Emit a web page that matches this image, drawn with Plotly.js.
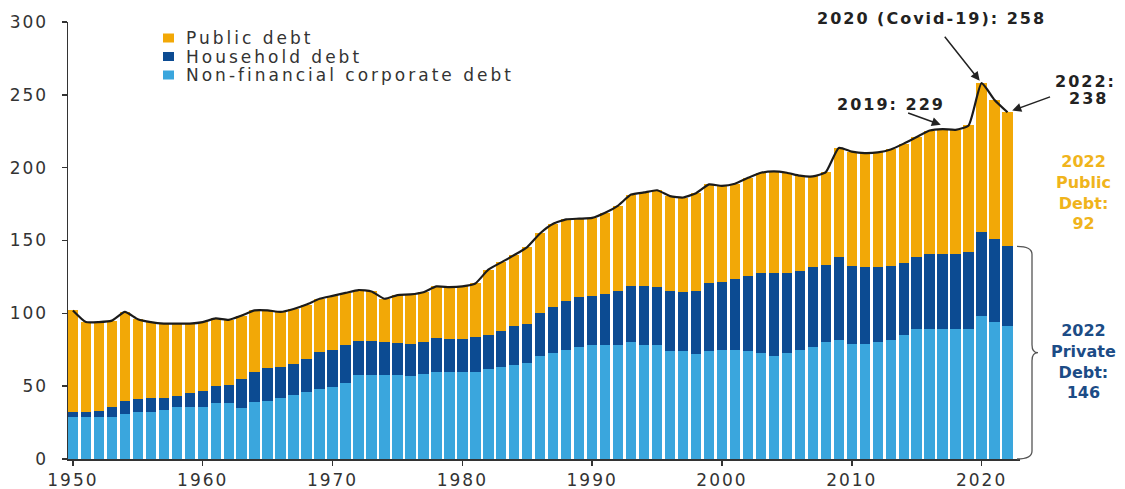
<!DOCTYPE html>
<html><head><meta charset="utf-8">
<script src="https://cdn.plot.ly/plotly-3.0.1.min.js"></script>
<style>
html,body{margin:0;padding:0;background:#fff;}
#chart{width:1125px;height:489px;}
.xtick text,.ytick text{letter-spacing:2px;}
</style></head><body><div id="chart"></div>
<script>
const years = [1950,1951,1952,1953,1954,1955,1956,1957,1958,1959,
  1960,1961,1962,1963,1964,1965,1966,1967,1968,1969,
  1970,1971,1972,1973,1974,1975,1976,1977,1978,1979,
  1980,1981,1982,1983,1984,1985,1986,1987,1988,1989,
  1990,1991,1992,1993,1994,1995,1996,1997,1998,1999,
  2000,2001,2002,2003,2004,2005,2006,2007,2008,2009,
  2010,2011,2012,2013,2014,2015,2016,2017,2018,2019,
  2020,2021,2022];
const corporate = [29,29,29,29,31,32,32,33.5,36,36,
  36,38.5,38.5,35,39,40,42,44,46,48,
  49.5,52,58,58,58,58,57,58.5,59.5,59.5,
  60,60,61.5,63,64.5,66,70.5,73,75,77,
  78,78,78,80,78.5,78.5,74,74,72,74,
  75,74.5,74,73,71,73,74.5,77,80.5,82,
  79,79,80.5,82,85,89,89,89,89,89.5,
  98,94,91];
const household = [3,3,4,7,9,9,10,8.5,7,9,
  11,11.5,12,20,21,22.5,21,21.5,22.5,25.5,
  25.5,26,23,23,22,21.5,22,21.5,23.5,23,
  22.5,23.5,23.5,25,26.5,27,30,31.5,33.5,34,
  34,35,37.5,39,40,39.5,41,40.5,43.5,47,
  46.5,49,51.5,54.5,56.5,54.5,54.5,54.5,52.5,56.5,
  53.5,52.5,51,50.5,49.5,49.5,51.5,51.5,51.5,52.5,
  58,57,55];
const publicDebt = [70,62,61,59,61,55,52,51,50,48,
  47,46.5,45,43.5,42,39.5,38,37.5,37.5,36.5,
  37,36,35,34,30,33,34,34.5,35.5,35.5,
  36,37,45,47,49,52.5,54.5,57,56,54,
  53.5,56,58.5,62.5,64.5,66.5,65.5,65,67,67.5,
  66,65.5,67.5,69,70,69,65.5,62.5,64,75,
  78.5,78.5,79,80,82,82.5,85,86,85.5,87,
  102,95.5,92];
const seriesNames = ["Non-financial corporate debt","Household debt","Public debt"];
const tickYears = [1950,1960,1970,1980,1990,2000,2010,2020];
const yTicks = [0,50,100,150,200,250,300];

const total = years.map((_, i) => corporate[i] + household[i] + publicDebt[i]);
const last = years.length - 1;
const idx2019 = years.indexOf(2019), idx2020 = years.indexOf(2020);
const private2022 = corporate[last] + household[last];
const public2022 = publicDebt[last];

const C_CORP = "#3AA6DD", C_HH = "#0C4B92", C_PUB = "#F2A807";
const FONT = "DejaVu Sans";

const traces = [
  {type:"bar", name:seriesNames[0], x:years, y:corporate, marker:{color:C_CORP}, showlegend:false},
  {type:"bar", name:seriesNames[1], x:years, y:household, marker:{color:C_HH}, showlegend:false},
  {type:"bar", name:seriesNames[2], x:years, y:publicDebt, marker:{color:C_PUB}, showlegend:false},
  {type:"scatter", mode:"lines", x:years, y:total, showlegend:false,
   line:{color:"#1b1b1b", width:2.2, shape:"spline", smoothing:0.5}, hoverinfo:"skip"}
];

// plot area geometry helpers (for decorations only)
const PW = 952, PH = 437, PT = 22, PL = 68;
const px2x = (px) => (px - PL) / PW;
const py2y = (py) => 1 - (py - PT) / PH;

// brace (paper coords, y derived from data)
const yTop = private2022/300, yMid = yTop/2;
const x0 = 1 - 3/PW, xv = 1 + 12/PW, xt = 1 + 18/PW, dy = 8/PH;
const bracePath = `M ${x0},${yTop} Q ${xv},${yTop} ${xv},${yTop-dy} L ${xv},${yMid+dy} Q ${xv},${yMid} ${xt},${yMid} Q ${xv},${yMid} ${xv},${yMid-dy} L ${xv},${dy} Q ${xv},0 ${x0},0`;

// manual legend (top to bottom: public, household, corporate)
const legendItems = [[seriesNames[2], C_PUB], [seriesNames[1], C_HH], [seriesNames[0], C_CORP]];
const legendRows = [38, 56.5, 75];
const legendShapes = legendItems.map((it, i) => ({
  type:"rect", xref:"paper", yref:"paper",
  x0:px2x(163), x1:px2x(174), y0:py2y(legendRows[i]+4.5), y1:py2y(legendRows[i]-4.5),
  fillcolor:it[1], line:{width:0}
}));
const spaced = (s, n) => '<span style="letter-spacing:' + n + 'px">' + s + '</span>';
const legendAnns = legendItems.map((it, i) => ({
  xref:"paper", yref:"paper", x:px2x(184), y:py2y(legendRows[i]), xanchor:"left", yanchor:"middle",
  text:spaced(it[0], 3), showarrow:false,
  font:{family:FONT, size:17, color:"#333"}
}));

const bold = (s) => "<b>" + s + "</b>";
const annFont = {family:FONT, size:16, color:"#222"};
const leftLabel = (px, py, s) => ({xref:"paper", yref:"paper", x:px2x(px), y:py2y(py), xanchor:"left", yanchor:"middle",
  text:bold(spaced(s, 2)), showarrow:false, font:annFont});
const arrowStyle = {showarrow:true, arrowhead:2, arrowsize:1.2, arrowwidth:1.5, arrowcolor:"#222"};
const layout = {
  width:1125, height:489,
  margin:{l:PL, r:1125-PL-PW, t:PT, b:489-PT-PH},
  paper_bgcolor:"#fff", plot_bgcolor:"#fff",
  barmode:"stack", bargap:0.2,
  showlegend:false,
  xaxis:{range:[1949.62, 2022.96], tickvals:tickYears, ticktext:tickYears.map(String),
    ticks:"outside", ticklen:5, tickwidth:1.5, tickcolor:"#333",
    showline:true, linecolor:"#333", linewidth:1.5, showgrid:false, zeroline:false,
    ticklabelstandoff:0,
    tickfont:{family:FONT, size:17, color:"#333"}},
  yaxis:{range:[0,300], tickvals:yTicks, ticks:"outside", ticklen:5, tickwidth:1.5, tickcolor:"#333",
    showline:true, linecolor:"#333", linewidth:1.5, showgrid:false, zeroline:false,
    ticklabelstandoff:10,
    tickfont:{family:FONT, size:17, color:"#333"}},
  shapes:[{type:"path", xref:"paper", yref:"paper", path:bracePath, line:{color:"#555", width:1.3}}].concat(legendShapes),
  annotations:legendAnns.concat([
    leftLabel(815, 19, "2020 (Covid-19): " + total[idx2020]),
    leftLabel(835, 104, "2019: " + total[idx2019]),
    leftLabel(1053, 81, "2022:"),
    leftLabel(1067, 98, String(total[last])),
    Object.assign({x:years[idx2020], y:total[idx2020], xref:"x", yref:"y", text:"", ax:-38, ay:-48, standoff:3}, arrowStyle),
    Object.assign({x:2017, y:total[idx2019], xref:"x", yref:"y", text:"", ax:-36, ay:-13, standoff:2}, arrowStyle),
    Object.assign({x:years[last], y:total[last], xref:"x", yref:"y", text:"", ax:44, ay:-16, standoff:5}, arrowStyle),
    {xref:"paper", yref:"paper", x:px2x(1083), y:py2y(192), xanchor:"center", yanchor:"middle",
      text:bold("2022<br>Public<br>Debt:<br>" + public2022), showarrow:false,
      font:{family:FONT, size:16, color:"#F0B41C"}, align:"center"},
    {xref:"paper", yref:"paper", x:px2x(1083), y:py2y(361), xanchor:"center", yanchor:"middle",
      text:bold("2022<br>Private<br>Debt:<br>" + private2022), showarrow:false,
      font:{family:FONT, size:16, color:"#1C4C86"}, align:"center"}
  ])
};
Plotly.newPlot("chart", traces, layout, {displayModeBar:false, staticPlot:true});
</script></body></html>
